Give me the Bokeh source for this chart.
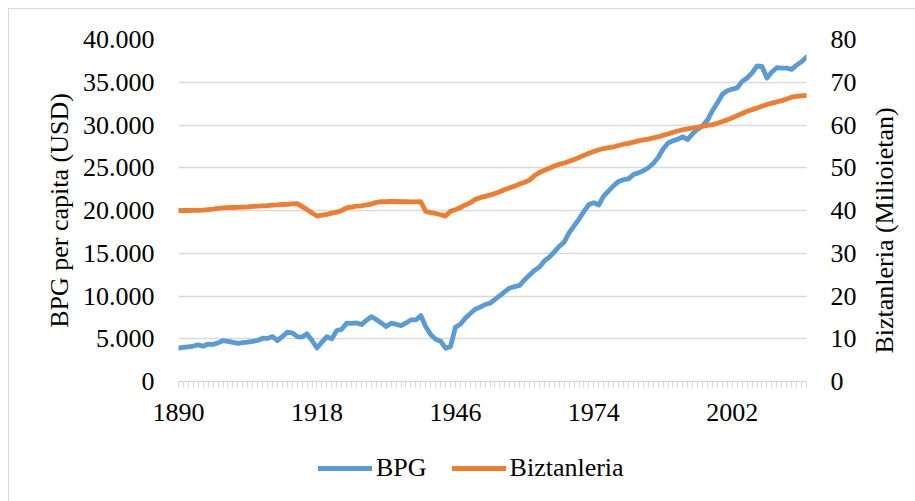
import math
from bokeh.plotting import figure
from bokeh.layouts import column, row
from bokeh.models import (Range1d, LinearAxis, FixedTicker, CustomJSTickFormatter,
                          Legend, Label)
from bokeh.embed import file_html
from bokeh.resources import INLINE

# ---------------- data ----------------
start_year = 1890
label_years = [1890, 1918, 1946, 1974, 2002]
gdp_ticks = [0, 5000, 10000, 15000, 20000, 25000, 30000, 35000, 40000]
pop_ticks = [0, 10, 20, 30, 40, 50, 60, 70, 80]
series_names = ["BPG", "Biztanleria"]

gdp = [
    3890, 3980, 4060, 4150, 4280, 4120, 4380, 4330, 4520, 4790,
    4700, 4580, 4470, 4540, 4610, 4700, 4800, 5060, 5040, 5250,
    4790, 5250, 5760, 5700, 5250, 5200, 5570, 4800, 3930, 4600,
    5250, 4990, 5960, 6100, 6810, 6800, 6850, 6660, 7150, 7590,
    7250, 6850, 6420, 6810, 6700, 6540, 6850, 7200, 7200, 7710,
    6400, 5490, 4950, 4710, 3890, 4080, 6340, 6700, 7400, 7950,
    8450, 8700, 9000, 9150, 9600, 10040, 10500, 10940, 11100, 11250,
    11900, 12450, 13000, 13400, 14100, 14550, 15150, 15800, 16300, 17400,
    18200, 19000, 19900, 20700, 20900, 20650, 21700, 22300, 22900, 23400,
    23600, 23700, 24200, 24400, 24650, 25000, 25500, 26200, 27200, 27900,
    28150, 28350, 28620, 28300, 29000, 29500, 29900, 30600, 31700, 32600,
    33600, 34000, 34200, 34350, 35100, 35500, 36100, 36900, 36850, 35500,
    36200, 36700, 36650, 36650, 36500, 37000, 37400, 37950,
]

population = [
    40.0, 40.0, 40.0, 40.05, 40.05, 40.1, 40.2, 40.3, 40.5, 40.6,
    40.65, 40.7, 40.75, 40.8, 40.85, 40.95, 41.0, 41.1, 41.15, 41.25,
    41.3, 41.4, 41.45, 41.55, 41.6, 40.9, 40.2, 39.4, 38.7, 38.9,
    39.1, 39.4, 39.6, 40.0, 40.6, 40.8, 41.0, 41.1, 41.3, 41.5,
    41.9, 42.05, 42.05, 42.1, 42.1, 42.05, 42.05, 42.0, 42.0, 42.05,
    39.8, 39.5, 39.3, 39.0, 38.7, 39.8, 40.2, 40.7, 41.3, 41.8,
    42.6, 43.0, 43.3, 43.6, 44.0, 44.4, 44.9, 45.3, 45.7, 46.2,
    46.6, 47.1, 48.2, 48.9, 49.4, 49.9, 50.4, 50.8, 51.1, 51.5,
    51.9, 52.4, 52.9, 53.4, 53.8, 54.2, 54.5, 54.7, 54.9, 55.2,
    55.5, 55.7, 56.0, 56.3, 56.5, 56.7, 57.0, 57.2, 57.6, 57.9,
    58.3, 58.6, 58.9, 59.1, 59.3, 59.5, 59.7, 59.9, 60.1, 60.4,
    60.8, 61.2, 61.7, 62.2, 62.7, 63.2, 63.6, 64.0, 64.4, 64.8,
    65.1, 65.4, 65.7, 66.1, 66.5, 66.7, 66.8, 66.9,
]

years = list(range(start_year, start_year + len(gdp)))

# ---------------- styling ----------------
FONT = "Liberation Serif"
FS = "26px"
GRID = "#D9D9D9"
BLUE = "#5B9BD5"
ORANGE = "#ED7D31"
LW = 4.8

FRAME_W, FRAME_H = 628, 342
LEFT_B, TOP_B, BOTTOM_B = 178, 39, 60
RIGHT_B = 60                     # right tick labels only
STRIP_W = 915 - LEFT_B - FRAME_W - RIGHT_B   # strip holding the right-axis title
LEG_H = 501 - (TOP_B + FRAME_H + BOTTOM_B)

bg_left_top = ("linear-gradient(#D9D9D9,#D9D9D9) 8px 8px / 1px calc(100% - 8px) no-repeat, "
               "linear-gradient(#D9D9D9,#D9D9D9) 8px 8px / calc(100% - 8px) 1px no-repeat, white")
bg_top = "linear-gradient(#D9D9D9,#D9D9D9) 0px 8px / 100% 1px no-repeat, white"
bg_left = "linear-gradient(#D9D9D9,#D9D9D9) 8px 0px / 1px 100% no-repeat, white"

p = figure(frame_width=FRAME_W, frame_height=FRAME_H, output_backend="svg",
           toolbar_location=None,
           x_range=Range1d(years[0], years[-1]), y_range=Range1d(0, 40000),
           min_border_left=LEFT_B, min_border_right=RIGHT_B,
           min_border_top=TOP_B, min_border_bottom=BOTTOM_B)
p.styles = {"background": bg_left_top}
p.outline_line_color = None
p.background_fill_color = "white"
p.border_fill_alpha = 0

p.extra_y_ranges = {"pop": Range1d(0, 80)}

# x axis
xa = p.xaxis[0]
xa.ticker = FixedTicker(ticks=label_years, minor_ticks=years)
xa.axis_line_color = GRID
xa.axis_line_width = 1.5
xa.major_tick_line_color = GRID
xa.minor_tick_line_color = GRID
xa.major_tick_in = 0
xa.major_tick_out = 6
xa.minor_tick_in = 0
xa.minor_tick_out = 6
xa.major_label_text_font = FONT
xa.major_label_text_font_size = FS
xa.major_label_text_color = "black"
xa.major_label_standoff = 16

# left axis
ya = p.yaxis[0]
ya.ticker = FixedTicker(ticks=gdp_ticks)
ya.formatter = CustomJSTickFormatter(
    code=r"return String(Math.round(tick)).replace(/\B(?=(\d{3})+(?!\d))/g, '.');")
ya.axis_line_color = None
ya.major_tick_line_color = None
ya.minor_tick_line_color = None
ya.major_tick_out = 0
ya.major_tick_in = 0
ya.major_label_standoff = 24
ya.major_label_text_font = FONT
ya.major_label_text_font_size = FS
ya.major_label_text_color = "black"
ya.axis_label = "BPG per capita (USD)"
ya.axis_label_text_font = FONT
ya.axis_label_text_font_size = FS
ya.axis_label_text_font_style = "normal"
ya.axis_label_text_color = "black"
ya.axis_label_standoff = 6

# right axis (tick labels)
ra = LinearAxis(y_range_name="pop", ticker=FixedTicker(ticks=pop_ticks))
ra.axis_line_color = None
ra.major_tick_line_color = None
ra.minor_tick_line_color = None
ra.major_tick_out = 0
ra.major_tick_in = 0
ra.major_label_standoff = 24
ra.major_label_text_font = FONT
ra.major_label_text_font_size = FS
ra.major_label_text_color = "black"
p.add_layout(ra, "right")

# grid
p.xgrid.grid_line_color = None
p.ygrid.ticker = FixedTicker(ticks=gdp_ticks)
p.ygrid.grid_line_color = GRID
p.ygrid.grid_line_width = 1.3

# lines
p.line(years, gdp, line_color=BLUE, line_width=LW,
       line_join="round", line_cap="round")
p.line(years, population, y_range_name="pop", line_color=ORANGE,
       line_width=LW, line_join="round", line_cap="round")

# ---------------- right-axis title strip ----------------
strip = figure(frame_width=STRIP_W, frame_height=FRAME_H, output_backend="svg",
               toolbar_location=None, x_axis_location=None, y_axis_location=None,
               x_range=Range1d(0, 1), y_range=Range1d(0, 1),
               min_border_left=0, min_border_right=0,
               min_border_top=TOP_B, min_border_bottom=BOTTOM_B)
strip.styles = {"background": bg_top}
strip.outline_line_color = None
strip.grid.visible = False
strip.background_fill_alpha = 0
strip.border_fill_alpha = 0
strip.add_layout(Label(x=18, y=151, x_units="screen", y_units="screen",
                       text="Biztanleria (Milioietan)", angle=math.pi / 2,
                       text_align="center", text_baseline="middle",
                       text_font=FONT, text_font_size=FS, text_color="black"))

# ---------------- legend strip (below the chart) ----------------
lg = figure(frame_width=FRAME_W, frame_height=LEG_H, output_backend="svg",
            toolbar_location=None, x_axis_location=None, y_axis_location=None,
            x_range=Range1d(0, 1), y_range=Range1d(0, 1),
            min_border_left=LEFT_B, min_border_right=915 - LEFT_B - FRAME_W,
            min_border_top=0, min_border_bottom=0)
lg.styles = {"background": bg_left}
lg.outline_line_color = None
lg.grid.visible = False
lg.background_fill_alpha = 0
lg.border_fill_alpha = 0
# legend keys: same series, drawn outside this strip's ranges (only the keys show)
k1 = lg.line(years, gdp, line_color=BLUE, line_width=LW, line_cap="round")
k2 = lg.line(years, population, line_color=ORANGE, line_width=LW, line_cap="round")

legend = Legend(items=[(series_names[0], [k1]), (series_names[1], [k2])],
                orientation="horizontal", location=(140, 18))
legend.border_line_color = None
legend.background_fill_alpha = 0
legend.padding = 0
legend.margin = 0
legend.spacing = 25
legend.glyph_width = 54
legend.glyph_height = 26
legend.label_standoff = 4
legend.label_text_font = FONT
legend.label_text_font_size = FS
legend.label_text_color = "black"
legend.label_height = 26
lg.add_layout(legend)

page = column(row(p, strip, spacing=0), lg, spacing=0)
open("out.html", "w").write(file_html(page, INLINE))
